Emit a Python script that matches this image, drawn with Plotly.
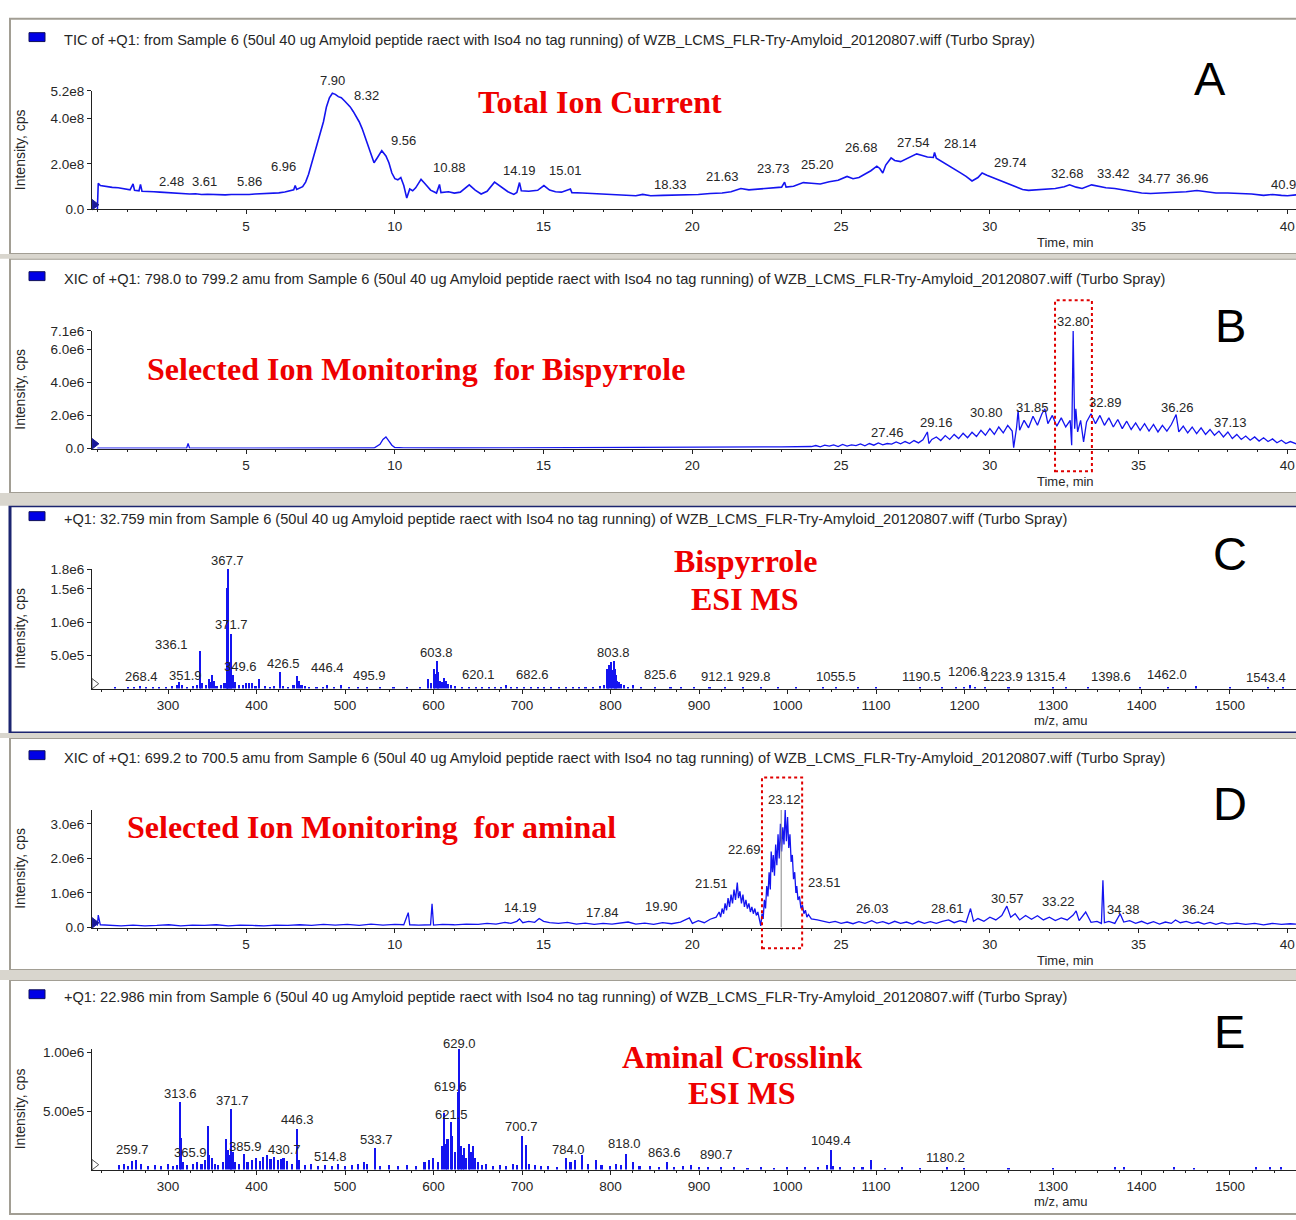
import plotly.graph_objects as go

W, H = 1296, 1220
def PX(x): return x / W
def PY(y): return 1 - y / H

# ---------------- DATA ----------------
# Panel A: TIC (intensity in units of 1e8 cps)
A_time = [0.00,0.03,0.1,0.3,0.5,0.7,0.9,1.1,1.2,1.25,1.4,1.45,1.5,1.7,1.9,2.1,2.3,2.5,2.7,2.9,3.1,3.3,3.5,3.7,3.9,4.1,4.3,4.5,4.7,4.9,5.1,5.3,5.5,5.7,5.9,6.1,6.3,6.5,6.6,6.65,6.7,6.9,7.0,7.1,7.2,7.3,7.4,7.5,7.6,7.7,7.8,7.9,8.0,8.1,8.2,8.32,8.4,8.5,8.6,8.7,8.8,8.9,9.0,9.1,9.2,9.3,9.4,9.5,9.56,9.7,9.8,9.9,10.0,10.1,10.2,10.3,10.4,10.5,10.6,10.7,10.88,11.0,11.2,11.4,11.5,11.55,11.8,12.0,12.2,12.5,12.7,12.9,13.1,13.35,13.6,13.8,14.0,14.1,14.19,14.25,14.5,14.8,15.01,15.2,15.4,15.6,15.9,15.95,16.3,16.7,17.0,17.4,17.8,18.1,18.33,18.6,19.0,19.4,19.8,20.2,20.6,21.0,21.3,21.63,21.9,22.2,22.5,22.8,23.0,23.1,23.15,23.4,23.73,24.0,24.3,24.6,24.9,25.2,25.4,25.6,25.8,26.0,26.2,26.3,26.4,26.5,26.68,26.8,27.0,27.2,27.4,27.54,27.7,27.9,28.1,28.14,28.2,28.4,28.6,28.8,29.0,29.2,29.4,29.6,29.74,29.9,30.1,30.3,30.5,30.7,30.9,31.1,31.3,31.6,31.9,32.2,32.5,32.68,32.9,33.1,33.42,33.6,33.9,34.2,34.5,34.8,35.1,35.4,35.8,36.2,36.6,36.96,37.3,37.6,38.0,38.4,38.8,39.2,39.5,39.8,40.0,40.3]
A_int = [0.00,1.15,1.05,1.00,0.97,0.95,0.90,0.86,1.12,0.84,0.82,1.10,0.80,0.80,0.78,0.76,0.74,0.72,0.70,0.71,0.68,0.69,0.66,0.67,0.65,0.66,0.64,0.66,0.65,0.67,0.66,0.68,0.69,0.70,0.71,0.73,0.77,0.82,0.86,1.05,0.88,1.00,1.20,1.55,2.00,2.45,2.90,3.30,3.85,4.50,4.90,5.10,5.05,4.95,4.90,4.75,4.65,4.50,4.30,4.10,3.85,3.55,3.15,2.75,2.35,2.05,2.25,2.50,2.58,2.35,2.05,1.60,1.35,1.30,1.40,1.05,0.50,0.90,0.82,0.95,1.32,1.15,0.85,0.72,1.10,0.74,0.78,0.72,0.76,1.08,0.85,0.68,0.80,1.20,0.95,0.78,0.66,0.75,1.18,0.82,0.80,0.84,1.05,0.85,0.78,0.76,0.90,0.74,0.72,0.70,0.66,0.64,0.62,0.60,0.66,0.60,0.62,0.63,0.64,0.66,0.70,0.72,0.78,0.92,0.86,0.90,0.92,0.96,0.98,1.20,0.98,1.02,1.18,1.15,1.12,1.22,1.28,1.45,1.35,1.40,1.55,1.70,1.90,1.80,1.60,1.95,2.26,2.15,2.10,2.22,2.35,2.44,2.38,2.30,2.28,2.50,2.25,2.10,1.95,1.80,1.62,1.45,1.25,1.40,1.60,1.50,1.40,1.30,1.20,1.10,0.98,0.88,0.84,0.86,0.88,0.92,1.00,1.08,0.98,0.92,1.08,1.02,0.95,0.92,0.85,0.78,0.72,0.70,0.72,0.74,0.78,0.83,0.76,0.72,0.72,0.70,0.68,0.62,0.66,0.62,0.60,0.64]
A_lbl_text = ['2.48','3.61','5.86','6.96','7.90','8.32','9.56','10.88','14.19','15.01','18.33','21.63','23.73','25.20','26.68','27.54','28.14','29.74','32.68','33.42','34.77','36.96','40.9']
A_lbl_x = [2.48,3.60,5.13,6.24,7.92,9.06,10.3,11.85,14.2,15.72,19.25,21.0,22.74,24.2,25.67,27.42,29.0,30.68,32.62,34.17,35.55,36.8,39.86]
A_lbl_y = [1.22,1.22,1.22,1.87,5.65,5.0,3.04,1.83,1.70,1.70,1.09,1.43,1.78,1.96,2.70,2.96,2.91,2.04,1.57,1.57,1.35,1.35,1.09]

# Panel B: XIC 798.0-799.2 (units of 1e6 cps)
B_time = [0.0,1.0,2.0,3.0,3.05,3.1,5.0,9.3,9.5,9.6,9.7,9.8,9.9,10.0,10.3,12,14,16,18,19,20,21,22,23,24,
          24.15,24.3,24.45,24.6,24.75,24.9,25.05,25.2,25.35,25.5,25.65,25.8,25.95,26.1,26.25,26.4,26.55,26.7,26.85,27.0,27.15,27.3,27.45,27.6,27.75,27.9,27.95,28.05,28.2,28.35,28.5,28.65,28.8,28.95,29.1,29.25,29.4,29.55,29.7,29.85,30.0,30.15,30.3,30.45,30.6,30.75,30.8,30.9,30.95,31.0,31.15,31.3,31.45,31.6,31.75,31.85,31.95,32.1,32.25,32.4,32.55,32.7,32.75,32.8,32.85,32.89,32.95,33.05,33.15,33.25,33.4,33.55,33.7,33.85,34.0,34.15,34.3,34.45,34.6,34.75,34.9,35.05,35.2,35.35,35.5,35.65,35.8,35.95,36.1,36.26,36.35,36.5,36.65,36.8,36.95,37.1,37.25,37.4,37.55,37.7,37.85,38.0,38.15,38.3,38.45,38.6,38.75,38.9,39.05,39.2,39.35,39.5,39.65,39.8,39.95,40.1,40.3]
B_int = [0.02,0.02,0.02,0.02,0.30,0.02,0.02,0.03,0.25,0.55,0.70,0.45,0.20,0.06,0.04,0.03,0.04,0.04,0.05,0.06,0.05,0.08,0.07,0.10,0.12,
         0.18,0.10,0.20,0.14,0.22,0.12,0.25,0.15,0.22,0.18,0.28,0.16,0.30,0.20,0.34,0.22,0.30,0.26,0.40,0.28,0.42,0.30,0.48,0.34,0.52,1.00,0.30,0.55,0.70,0.48,0.78,0.55,0.85,0.60,0.92,0.65,0.98,0.72,1.10,0.80,1.20,0.85,1.30,0.95,1.40,1.05,0.05,1.30,2.30,1.10,1.70,1.25,1.95,1.40,2.10,2.40,1.50,2.00,1.35,1.85,1.30,1.70,0.20,7.10,1.20,2.40,1.00,1.70,0.40,1.60,2.10,1.50,2.00,1.40,1.85,1.30,1.75,1.20,1.65,1.15,1.55,1.10,1.50,1.05,1.45,1.00,1.40,1.05,1.45,2.05,1.00,1.35,0.95,1.30,0.90,1.25,0.85,1.15,0.80,1.05,0.70,1.00,0.60,0.85,0.55,0.75,0.50,0.70,0.45,0.65,0.42,0.58,0.35,0.50,0.30,0.42,0.28]
B_lbl_text = ['32.80','27.46','29.16','30.80','31.85','32.89','36.26','37.13']
B_lbl_x = [32.80,26.55,28.22,29.87,31.42,33.87,36.3,38.1]
B_lbl_y = [7.7,0.96,1.55,2.2,2.5,2.75,2.5,1.55]

# Panel C: spectrum at 32.759 min (units of 1e6 cps)
C_mz = [240,255,262,268.4,275,283,290,298,305,310,313,316,322,328,333,336.1,338,343,346,348,349.6,351.9,355,360,364,366.5,367.2,367.7,368.5,370,371.7,373,376,380,385,388,392,395,399,403,410,415,420,426.5,430,436,442,446.4,448,451,455,460,468,475,480,488,495.9,505,515,525,540,555,570,585,594,597,600.5,602,603.8,605,607,610,612,614,617,620.1,625,632,640,648,655,663,670,676,682.6,688,695,702,710,718,725,733,742,750,758,765,772,780,788,793,796,797.8,799,800.8,802,803.8,805,806.5,808,810,812,815,820,825.6,835,850,868,880,895,912.1,929.8,950,970,990,1010,1040,1055.5,1080,1100,1150,1175,1190.5,1200,1206.8,1212,1223.9,1250,1300,1315.4,1340,1398.6,1430,1462.0,1500,1543.4,1560]
C_int = [0.02,0.02,0.03,0.04,0.02,0.03,0.02,0.03,0.04,0.05,0.10,0.06,0.03,0.04,0.05,0.56,0.08,0.05,0.15,0.10,0.20,0.12,0.04,0.05,0.08,0.30,1.52,1.80,0.40,0.15,0.82,0.20,0.10,0.05,0.06,0.09,0.08,0.09,0.04,0.15,0.04,0.03,0.04,0.25,0.04,0.03,0.05,0.19,0.12,0.06,0.04,0.03,0.02,0.03,0.05,0.02,0.06,0.02,0.02,0.02,0.02,0.01,0.02,0.02,0.15,0.08,0.30,0.22,0.42,0.25,0.12,0.10,0.16,0.12,0.07,0.05,0.04,0.03,0.02,0.03,0.02,0.03,0.02,0.03,0.06,0.03,0.02,0.03,0.02,0.03,0.02,0.02,0.03,0.02,0.03,0.02,0.03,0.03,0.04,0.05,0.30,0.22,0.35,0.40,0.28,0.42,0.30,0.20,0.12,0.10,0.07,0.05,0.03,0.06,0.02,0.02,0.03,0.02,0.01,0.02,0.02,0.02,0.02,0.01,0.01,0.01,0.02,0.01,0.02,0.01,0.02,0.02,0.03,0.05,0.02,0.02,0.01,0.01,0.02,0.01,0.02,0.01,0.04,0.01,0.02,0.01]
C_lbl_text = ['367.7','336.1','371.7','351.9','349.6','426.5','446.4','495.9','268.4','603.8','620.1','682.6','803.8','825.6','912.1','929.8','1055.5','1190.5','1206.8','1223.9','1315.4','1398.6','1462.0','1543.4']
C_lbl_x = [366.7,303.4,371.2,319.2,381.4,429.9,479.7,527.1,269.5,602.8,650.3,711.3,802.8,855.9,920.3,962.1,1054.8,1151.9,1203.9,1243.5,1292.1,1365.5,1428.8,1540.7]
C_lbl_y = [1.93,0.67,0.96,0.19,0.33,0.37,0.31,0.19,0.18,0.54,0.21,0.21,0.54,0.21,0.18,0.18,0.18,0.18,0.25,0.18,0.18,0.18,0.21,0.16]

# Panel D: XIC 699.2-700.5 (units of 1e6 cps)
D_time = [0.0,0.03,0.1,0.4,0.8,1.2,1.6,2.0,2.4,2.8,3.2,3.6,4.0,4.4,4.8,5.2,5.6,6.0,6.4,6.8,7.2,7.6,8.0,8.4,8.8,9.2,9.6,10.0,10.3,10.45,10.5,10.8,11.2,11.25,11.3,11.6,12.0,12.4,12.8,13.1,13.4,13.7,13.9,14.1,14.19,14.3,14.5,14.7,14.85,15.0,15.2,15.5,15.8,16.1,16.4,16.7,17.0,17.3,17.6,17.84,18.1,18.4,18.7,19.0,19.3,19.6,19.9,20.0,20.2,20.4,20.6,
          20.8,20.9,20.95,21.0,21.05,21.1,21.15,21.2,21.25,21.3,21.35,21.4,21.45,21.51,21.55,21.6,21.65,21.7,21.75,21.8,21.85,21.9,21.95,22.0,22.05,22.1,22.15,22.2,22.25,22.3,
          22.34,22.38,22.42,22.46,22.5,22.54,22.58,22.62,22.65,22.69,22.72,22.76,22.8,22.84,22.88,22.92,22.96,23.0,23.04,23.08,23.12,23.16,23.2,23.24,23.28,23.32,23.36,23.4,23.44,23.48,23.51,23.55,23.6,23.65,23.7,23.75,23.8,23.85,23.9,24.0,
          24.2,24.4,24.6,24.8,25.0,25.2,25.4,25.6,25.8,26.03,26.2,26.4,26.6,26.8,27.0,27.2,27.4,27.6,27.8,28.0,28.2,28.4,28.61,28.8,29.0,29.2,29.35,29.45,29.6,29.8,30.0,30.2,30.4,30.57,30.7,30.85,31.0,31.2,31.4,31.6,31.8,32.0,32.2,32.4,32.6,32.8,32.9,33.0,33.22,33.4,33.6,33.75,33.8,33.85,34.0,34.2,34.38,34.5,34.7,34.9,35.1,35.3,35.5,35.7,35.9,36.1,36.24,36.4,36.6,36.8,37.0,37.2,37.4,37.6,37.8,38.0,38.3,38.6,38.9,39.2,39.5,39.8,40.1,40.3]
D_int = [0.05,0.36,0.08,0.06,0.05,0.07,0.05,0.06,0.08,0.05,0.07,0.06,0.08,0.05,0.07,0.06,0.05,0.07,0.06,0.08,0.06,0.09,0.07,0.09,0.06,0.10,0.07,0.09,0.08,0.43,0.08,0.07,0.08,0.69,0.07,0.09,0.08,0.10,0.09,0.12,0.10,0.15,0.12,0.18,0.25,0.14,0.18,0.15,0.26,0.18,0.14,0.12,0.15,0.10,0.13,0.09,0.12,0.10,0.13,0.16,0.10,0.13,0.09,0.14,0.11,0.16,0.28,0.12,0.20,0.14,0.24,
         0.30,0.45,0.30,0.55,0.40,0.70,0.50,0.85,0.60,0.95,0.70,1.10,0.80,1.30,0.85,1.05,0.70,0.95,0.60,0.80,0.55,0.70,0.45,0.60,0.40,0.55,0.35,0.45,0.25,0.05,
         0.40,0.25,0.80,0.55,1.20,0.90,1.60,1.10,2.20,1.60,2.10,1.50,2.40,1.80,2.70,2.00,3.00,2.20,2.90,2.40,3.40,2.50,3.20,2.30,2.70,1.90,2.10,1.40,1.60,1.00,1.20,0.80,0.90,0.55,0.65,0.40,0.50,0.30,0.38,0.25,
         0.22,0.18,0.14,0.18,0.12,0.16,0.11,0.17,0.12,0.20,0.13,0.17,0.11,0.18,0.12,0.16,0.10,0.18,0.12,0.17,0.12,0.18,0.22,0.14,0.20,0.15,0.55,0.18,0.26,0.18,0.30,0.22,0.35,0.62,0.30,0.40,0.22,0.35,0.24,0.34,0.22,0.30,0.20,0.28,0.22,0.36,0.48,0.20,0.45,0.15,0.18,0.12,1.37,0.14,0.18,0.12,0.40,0.16,0.20,0.12,0.18,0.11,0.17,0.10,0.16,0.12,0.22,0.14,0.18,0.12,0.16,0.10,0.15,0.09,0.14,0.10,0.13,0.09,0.12,0.08,0.12,0.09,0.11,0.10]
D_lbl_text = ['14.19','17.84','19.90','21.51','22.69','23.12','23.51','26.03','28.61','30.57','33.22','34.38','36.24']
D_lbl_x = [14.21,16.97,18.95,20.63,21.74,23.11,24.43,26.04,28.59,30.58,32.29,34.48,37.0]
D_lbl_y = [0.57,0.43,0.60,1.26,2.26,3.71,1.29,0.54,0.54,0.83,0.74,0.51,0.51]

# Panel E: spectrum at 22.986 min (units of 1e6 cps)
E_mz = [245,250,255,259.7,264,270,278,285,292,300,306,310,313.6,314.5,317,322,328,333,338,342,345,347,350,353,357,362,365.9,368,370,371.7,373,376,380,385.9,390,395,400,404,408,412,416,420,424,428,430.7,435,440,446.3,448,455,462,470,478,485,492,500,508,514.8,522,525,533.7,540,550,560,570,580,590,595,600,605,610,612,614,616,619.6,621.5,624,627.5,629.0,631,633,635,637,640,642,645,647,650,655,660,667,675,682,690,695,700.7,705,708,715,722,730,740,750,755,760,768,775,784.0,790,800,806,812,818.0,826,833,845,855,863.6,872,882,890.7,900,910,925,940,955,970,985,1000,1020,1035,1045,1049.4,1052,1060,1075,1085,1095,1110,1130,1150,1180.2,1200,1250,1300,1370,1380,1437,1460,1530,1545,1558]
E_int = [0.04,0.05,0.03,0.07,0.08,0.05,0.03,0.04,0.03,0.05,0.03,0.04,0.58,0.27,0.06,0.04,0.05,0.06,0.05,0.08,0.37,0.12,0.10,0.05,0.04,0.06,0.26,0.17,0.12,0.52,0.15,0.06,0.05,0.13,0.06,0.08,0.10,0.07,0.11,0.12,0.09,0.11,0.08,0.09,0.10,0.07,0.05,0.35,0.08,0.04,0.05,0.03,0.04,0.03,0.05,0.03,0.04,0.05,0.06,0.05,0.18,0.03,0.04,0.03,0.04,0.03,0.06,0.08,0.10,0.06,0.20,0.48,0.22,0.26,0.41,0.29,0.15,0.66,1.03,0.20,0.12,0.18,0.10,0.22,0.15,0.20,0.10,0.06,0.04,0.05,0.03,0.04,0.03,0.05,0.04,0.29,0.21,0.05,0.04,0.03,0.03,0.02,0.10,0.06,0.08,0.12,0.05,0.08,0.04,0.03,0.05,0.04,0.13,0.06,0.03,0.03,0.02,0.06,0.02,0.03,0.04,0.02,0.02,0.02,0.02,0.01,0.02,0.01,0.02,0.02,0.02,0.04,0.17,0.03,0.02,0.02,0.02,0.08,0.01,0.02,0.01,0.02,0.01,0.01,0.01,0.02,0.02,0.02,0.01,0.02,0.02,0.02]
E_lbl_text = ['313.6','371.7','446.3','259.7','365.9','385.9','430.7','514.8','533.7','629.0','619.6','621.5','700.7','784.0','818.0','863.6','890.7','1049.4','1180.2']
E_lbl_x = [313.6,372.3,445.8,260.2,324.9,387.0,432.0,484.0,535.0,629.4,618.6,620.8,698.9,753.0,816.0,861.0,920.0,1049.0,1178.0]
E_lbl_y = [0.65,0.59,0.43,0.17,0.144,0.20,0.17,0.11,0.26,1.08,0.71,0.47,0.37,0.17,0.22,0.144,0.127,0.245,0.10]

# ---------------- LAYOUT CONSTANTS ----------------
FONT = "Liberation Sans, Arial, sans-serif"
SERIF = "Liberation Serif, Times New Roman, serif"
BLUE = "#1414f0"
TXT = "#262626"
TIME_RANGE = [-0.18, 40.29]
MZ_RANGE = [214, 1574.6]

panels = [
    dict(top=85, bot=205, yr=[0, 5.2], tv=[0, 2, 4, 5.2], tt=['0.0', '2.0e8', '4.0e8', '5.2e8'], kind='t'),
    dict(top=328, bot=447, yr=[0, 7.1], tv=[0, 2, 4, 6, 7.1], tt=['0.0', '2.0e6', '4.0e6', '6.0e6', '7.1e6'], kind='t'),
    dict(top=569, bot=690, yr=[0, 1.8], tv=[0.5, 1.0, 1.5, 1.8], tt=['5.0e5', '1.0e6', '1.5e6', '1.8e6'], kind='m'),
    dict(top=813, bot=932, yr=[0, 3.4], tv=[0, 1, 2, 3], tt=['0.0', '1.0e6', '2.0e6', '3.0e6'], kind='t'),
    dict(top=1055, bot=1177, yr=[0, 1.03], tv=[0.5, 1.0], tt=['5.00e5', '1.00e6'], kind='m'),
]
frames = [(12, 250, '#a29e94'), (255, 492, '#a29e94'), (505, 735, '#1c2570'), (740, 975, '#a29e94'), (985, 1222, '#a29e94')]
headers = [
    "TIC of +Q1: from Sample 6 (50ul 40 ug Amyloid peptide raect with Iso4 no tag running) of WZB_LCMS_FLR-Try-Amyloid_20120807.wiff (Turbo Spray)",
    "XIC of +Q1: 798.0 to 799.2 amu from Sample 6 (50ul 40 ug Amyloid peptide raect with Iso4 no tag running) of WZB_LCMS_FLR-Try-Amyloid_20120807.wiff (Turbo Spray)",
    "+Q1: 32.759 min from Sample 6 (50ul 40 ug Amyloid peptide raect with Iso4 no tag running) of WZB_LCMS_FLR-Try-Amyloid_20120807.wiff (Turbo Spray)",
    "XIC of +Q1: 699.2 to 700.5 amu from Sample 6 (50ul 40 ug Amyloid peptide raect with Iso4 no tag running) of WZB_LCMS_FLR-Try-Amyloid_20120807.wiff (Turbo Spray)",
    "+Q1: 22.986 min from Sample 6 (50ul 40 ug Amyloid peptide raect with Iso4 no tag running) of WZB_LCMS_FLR-Try-Amyloid_20120807.wiff (Turbo Spray)",
]
header_y = [33, 275, 518, 760, 1002]
letters = [('A', 1210, 72), ('B', 1230, 322), ('C', 1230, 553), ('D', 1230, 806), ('E', 1229, 1037)]
xtitles = [('Time, min', 1065, 238), ('Time, min', 1065, 480), ('m/z, amu', 1060, 722), ('Time, min', 1065, 965), ('m/z, amu', 1060, 1209)]
red_texts = [
    ("Total Ion Current", 600, 96),
    ("Selected Ion Monitoring  for Bispyrrole", 416, 366),
    ("Bispyrrole", 745, 561), ("ESI MS", 745, 599),
    ("Selected Ion Monitoring  for aminal", 371, 830),
    ("Aminal Crosslink", 742, 1063), ("ESI MS", 742, 1100),
]

fig = go.Figure()

series = [
    ('line', A_time, A_int), ('line', B_time, B_int), ('bar', C_mz, C_int),
    ('line', D_time, D_int), ('bar', E_mz, E_int),
]
labels = [
    (A_lbl_text, A_lbl_x, A_lbl_y), (B_lbl_text, B_lbl_x, B_lbl_y), (C_lbl_text, C_lbl_x, C_lbl_y),
    (D_lbl_text, D_lbl_x, D_lbl_y), (E_lbl_text, E_lbl_x, E_lbl_y),
]

annotations = []
shapes = []

for (t, b, col) in frames:
    shapes.append(dict(type='rect', xref='paper', yref='paper', x0=PX(10), x1=PX(1310), y0=PY(b), y1=PY(t),
                       line=dict(color=col, width=3 if col != '#a29e94' else 2), fillcolor='white', layer='below'))
for (b, t2) in [(250, 255), (492, 505), (735, 740), (975, 985)]:
    shapes.append(dict(type='rect', xref='paper', yref='paper', x0=0, x1=1, y0=PY(t2), y1=PY(b),
                       line=dict(width=0), fillcolor='#d9d6ce', layer='below'))

for i, p in enumerate(panels):
    n = i + 1
    xa = 'x' if n == 1 else f'x{n}'
    ya = 'y' if n == 1 else f'y{n}'
    kind, xs, ys = series[i]
    if kind == 'line':
        fig.add_trace(go.Scatter(x=xs, y=ys, mode='lines', line=dict(color=BLUE, width=1.6 if n == 1 else 1.3),
                                 xaxis=xa, yaxis=ya, showlegend=False, hoverinfo='skip'))
    else:
        fig.add_trace(go.Bar(x=xs, y=ys, width=1.8, marker=dict(color=BLUE, line=dict(width=0)),
                             xaxis=xa, yaxis=ya, showlegend=False, hoverinfo='skip'))
    xr = TIME_RANGE if p['kind'] == 't' else MZ_RANGE
    fig.add_trace(go.Scatter(x=[xr[0] + (0.08 if p['kind'] == 't' else 2.5)], y=[p['yr'][1] * 0.04], mode='markers',
                             marker=dict(symbol='triangle-right' if p['kind'] == 't' else 'triangle-right-open',
                                         size=9, color='#1a1a9a' if p['kind'] == 't' else '#555555',
                                         line=dict(width=1, color='#1a1a9a' if p['kind'] == 't' else '#555555')),
                             xaxis=xa, yaxis=ya, showlegend=False, hoverinfo='skip', cliponaxis=False))
    if p['kind'] == 't':
        xaxis = dict(range=TIME_RANGE, tickvals=[5, 10, 15, 20, 25, 30, 35, 40],
                     minor=dict(ticks='outside', ticklen=2, dtick=1, tick0=0, tickcolor='#222'))
    else:
        xaxis = dict(range=MZ_RANGE, tickvals=list(range(300, 1600, 100)),
                     minor=dict(ticks='outside', ticklen=2, dtick=25, tick0=0, tickcolor='#222'))
    xaxis.update(domain=[PX(92), 1.0], anchor=ya, showline=True, linecolor='#222', linewidth=1,
                 ticks='outside', ticklen=4, tickcolor='#222', showgrid=False, zeroline=False,
                 tickfont=dict(family=FONT, size=13.5, color=TXT), fixedrange=True)
    yaxis = dict(domain=[PY(p['bot']), PY(p['top'])], anchor=xa, range=p['yr'], tickvals=p['tv'], ticktext=p['tt'],
                 showline=True, linecolor='#222', linewidth=1, ticks='outside', ticklen=4, tickcolor='#222',
                 showgrid=False, zeroline=False, tickfont=dict(family=FONT, size=13.5, color=TXT), fixedrange=True)
    fig.update_layout(**{('xaxis' if n == 1 else f'xaxis{n}'): xaxis, ('yaxis' if n == 1 else f'yaxis{n}'): yaxis})

    txts, lx, ly = labels[i]
    top = p['yr'][1]
    for tx, xv, yv in zip(txts, lx, ly):
        annotations.append(dict(x=xv, y=yv / top, xref=xa, yref=f'{ya} domain', text=tx, showarrow=False,
                                xanchor='center', yanchor='middle',
                                font=dict(family=FONT, size=13, color=TXT)))
    annotations.append(dict(x=PX(20), y=PY((p['top'] + p['bot']) / 2), xref='paper', yref='paper',
                            text='Intensity, cps', textangle=-90, showarrow=False,
                            xanchor='center', yanchor='middle',
                            font=dict(family=FONT, size=14, color=TXT)))
    annotations.append(dict(x=PX(62), y=PY(header_y[i]), xref='paper', yref='paper', text=headers[i],
                            showarrow=False, xanchor='left', yanchor='middle',
                            font=dict(family=FONT, size=14.6, color=TXT)))
    shapes.append(dict(type='rect', xref='paper', yref='paper', x0=PX(29), x1=PX(45),
                       y0=PY(header_y[i] + 2), y1=PY(header_y[i] - 7), fillcolor='#0000e6',
                       line=dict(color='#10105a', width=1)))
    tname, tx_, ty_ = xtitles[i]
    annotations.append(dict(x=PX(tx_), y=PY(ty_), xref='paper', yref='paper', text=tname, showarrow=False,
                            xanchor='center', yanchor='middle',
                            font=dict(family=FONT, size=13, color=TXT)))
    L, lxp, lyp = letters[i]
    annotations.append(dict(x=PX(lxp), y=PY(lyp), xref='paper', yref='paper', text=L, showarrow=False,
                            xanchor='center', yanchor='middle',
                            font=dict(family=FONT, size=47, color='black')))

for txt, cx, cy in red_texts:
    annotations.append(dict(x=PX(cx), y=PY(cy), xref='paper', yref='paper', text=f'<b>{txt}</b>',
                            showarrow=False, xanchor='center', yanchor='middle',
                            font=dict(family=SERIF, size=32, color='#ee0000')))

shapes.append(dict(type='rect', xref='x2', yref='paper', x0=32.19, x1=33.43, y0=PY(470), y1=PY(297),
                   line=dict(color='#e00000', width=2, dash='dot')))
shapes.append(dict(type='rect', xref='x4', yref='paper', x0=22.34, x1=23.69, y0=PY(953), y1=PY(780),
                   line=dict(color='#e00000', width=2, dash='dot')))
shapes.append(dict(type='line', xref='x4', yref='y4', x0=22.986, x1=22.986, y0=0, y1=3.44,
                   line=dict(color='#888888', width=1)))

fig.update_layout(width=W, height=H, margin=dict(l=0, r=0, t=0, b=0), paper_bgcolor='white',
                  plot_bgcolor='rgba(0,0,0,0)', annotations=annotations, shapes=shapes, bargap=0)

fig.write_html("out.html")
